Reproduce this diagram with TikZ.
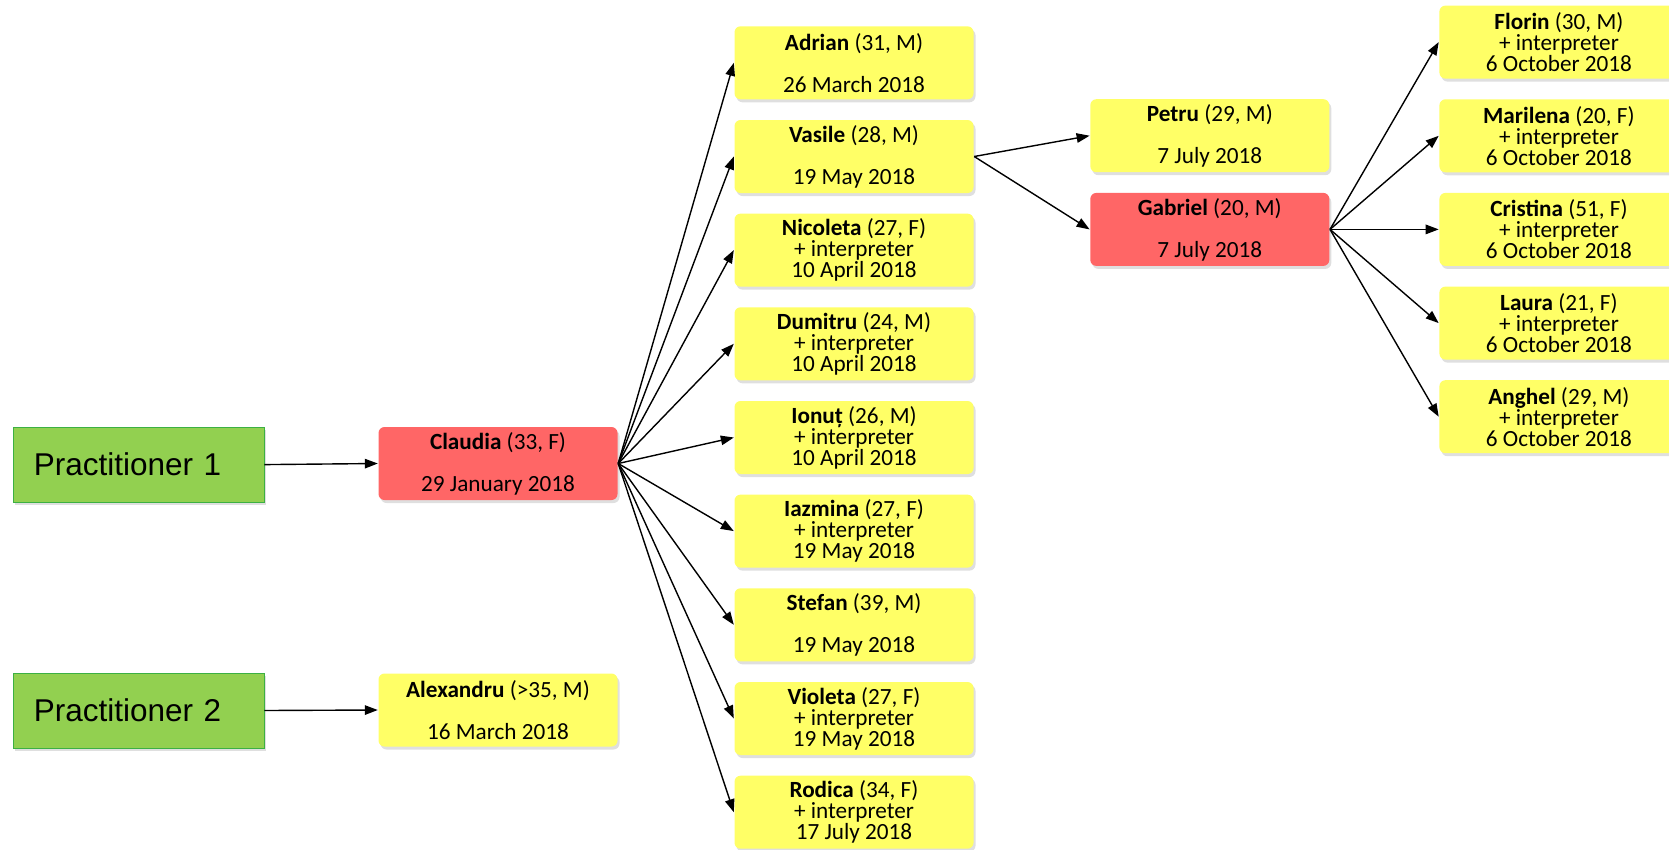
\documentclass[tikz,border=0pt]{standalone}
\usepackage{fontspec}
\setmainfont{Carlito}
\newfontfamily\pracfont{Liberation Sans}
\usetikzlibrary{arrows.meta,shadows}
\definecolor{caseyellow}{HTML}{FFFF66}
\definecolor{casered}{HTML}{FF6666}
\definecolor{pracgreen}{HTML}{92D050}
\definecolor{pracline}{HTML}{3CB043}
\tikzset{%
  practitioner/.style = {draw=pracline, line width=0.8pt, fill=pracgreen,
    rectangle, minimum height=75pt, inner xsep=21pt, text width=209pt, align=left,
    font=\pracfont\fontsize{31.5}{31.5}\selectfont,
    drop shadow={shadow xshift=2pt, shadow yshift=-3pt, opacity=0.25}},
  person/.style = {rectangle, rounded corners=6pt, fill=caseyellow, minimum width=239pt,
    minimum height=73pt, inner sep=0pt, align=center,
    font=\fontsize{23.2}{21}\selectfont,
    drop shadow={shadow xshift=2pt, shadow yshift=-3pt, opacity=0.25}}, % contact
  index/.style = {person, fill=casered} % index case
}

\begin{document}
\begin{tikzpicture}[x=1pt, y=-1pt, line width=1.4pt, >={Triangle[length=13pt,width=9.5pt]}]
\useasboundingbox (0,0) rectangle (1669,849);
% practitioners
\draw
	node at(138.4,464.6)[practitioner, name=prac1]{Practitioner 1}
	node at(138.4,710.5)[practitioner, name=prac2]{Practitioner 2};
\draw
	node at(498,463.5)[index, name=claudia]{\textbf{Claudia} (33, F)\\[21pt]29 January 2018}
	node at(498,710)[person, name=alexandru]{\textbf{Alexandru} (>35, M)\\[21pt]16 March 2018};
% contacts of Claudia
\draw
	node at(854,62.8)[person, name=adrian]{\textbf{Adrian} (31, M)\\[21pt]26 March 2018}
	node at(854,156.5)[person, name=vasile]{\textbf{Vasile} (28, M)\\[21pt]19 May 2018}
	node at(854,250.1)[person, name=nicoleta]{\textbf{Nicoleta} (27, F)\\+ interpreter\\10 April 2018}
	node at(854,343.8)[person, name=dumitru]{\textbf{Dumitru} (24, M)\\+ interpreter\\10 April 2018}
	node at(854,437.5)[person, name=ionut]{\textbf{Ionuț} (26, M)\\+ interpreter\\10 April 2018}
	node at(854,531.1)[person, name=iazmina]{\textbf{Iazmina} (27, F)\\+ interpreter\\19 May 2018}
	node at(854,624.8)[person, name=stefan]{\textbf{Stefan} (39, M)\\[21pt]19 May 2018}
	node at(854,718.5)[person, name=violeta]{\textbf{Violeta} (27, F)\\+ interpreter\\19 May 2018}
	node at(854,812.2)[person, name=rodica]{\textbf{Rodica} (34, F)\\+ interpreter\\17 July 2018};
% contacts of Vasile
\draw
	node at(1209.8,135.7)[person, name=petru]{\textbf{Petru} (29, M)\\[21pt]7 July 2018}
	node at(1209.8,229.4)[index, name=gabriel]{\textbf{Gabriel} (20, M)\\[21pt]7 July 2018};
% contacts of Gabriel
\draw
	node at(1558.9,42.1)[person, name=florin]{\textbf{Florin} (30, M)\\+ interpreter\\6 October 2018}
	node at(1558.9,135.8)[person, name=marilena]{\textbf{Marilena} (20, F)\\+ interpreter\\6 October 2018}
	node at(1558.9,229.4)[person, name=cristina]{\textbf{Cristina} (51, F)\\+ interpreter\\6 October 2018}
	node at(1558.9,323.1)[person, name=laura]{\textbf{Laura} (21, F)\\+ interpreter\\6 October 2018}
	node at(1558.9,416.7)[person, name=anghel]{\textbf{Anghel} (29, M)\\+ interpreter\\6 October 2018};
\draw[->](prac1.east) -- (claudia.west);
\draw[->](prac2.east) -- (alexandru.west);
\foreach \contact in {adrian,vasile,nicoleta,dumitru,ionut,iazmina,stefan,violeta,rodica}
	\draw[->](claudia.east) -- (\contact.west);
\draw[->](vasile.east) -- (petru.west);
\draw[->](vasile.east) -- (gabriel.west);
\foreach \contact in {florin,marilena,cristina,laura,anghel}
	\draw[->](gabriel.east) -- (\contact.west);
\end{tikzpicture}
\end{document}
